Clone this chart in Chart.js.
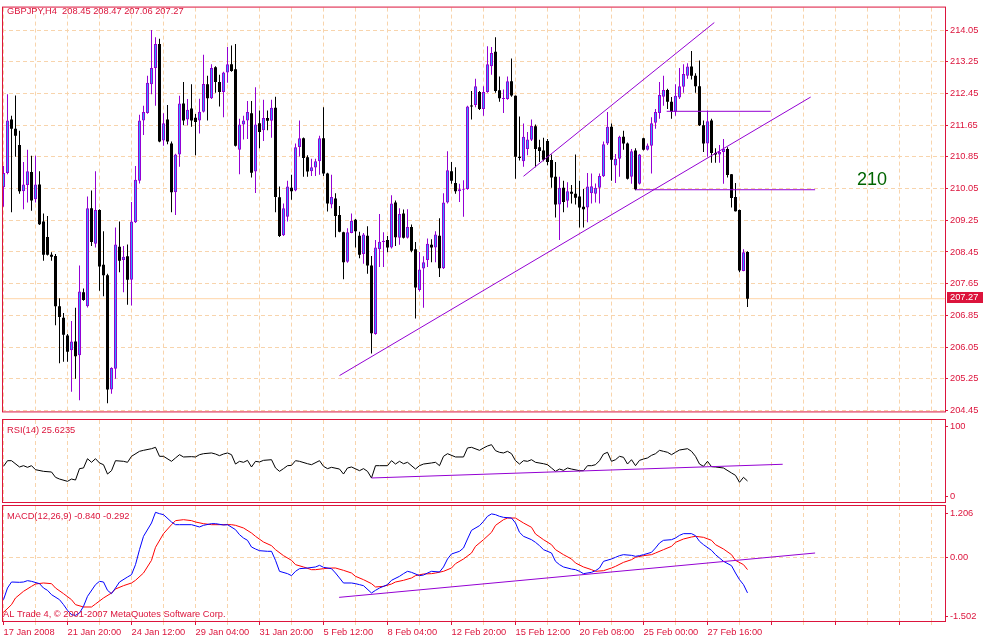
<!DOCTYPE html>
<html><head><meta charset="utf-8">
<script src="https://cdn.jsdelivr.net/npm/chart.js"></script>
<style>
html,body{margin:0;padding:0;background:#fff;}
body{width:983px;height:639px;position:relative;overflow:hidden;}
canvas{position:absolute;left:0;display:block;}
</style></head><body>
<canvas id="cMain" width="983" height="419" style="top:0px"></canvas>
<canvas id="cRsi" width="983" height="85" style="top:419px"></canvas>
<canvas id="cMacd" width="983" height="135" style="top:504px"></canvas>
<script>
const symbol = 'GBPJPY,H4';
const opens = [210.08,210.44,211.79,211.56,211.15,209.98,210.14,210.47,209.78,210.15,
209.22,208.83,208.38,208.35,207.08,206.79,206.34,205.97,206.19,205.84,
207.43,207.08,209.55,208.66,209.51,208.13,207.86,204.98,205.50,208.58,
208.25,208.34,207.75,209.20,210.25,211.77,211.96,212.68,213.09,213.70,
211.26,211.79,211.19,209.96,210.91,212.20,211.79,212.07,211.84,211.77,
211.99,212.68,212.33,213.11,212.74,212.49,212.98,213.19,213.06,211.03,
211.67,211.77,211.95,210.48,211.70,211.52,211.83,211.76,212.09,209.83,
208.87,209.34,210.07,210.00,211.10,211.32,210.84,210.49,210.58,210.74,
211.32,210.43,209.65,209.80,209.38,208.95,208.20,208.93,209.26,208.86,
208.40,208.86,208.11,206.38,208.52,208.70,208.75,208.56,209.70,208.81,
209.42,208.81,209.08,208.52,207.49,208.03,208.25,208.63,208.56,208.86,
208.04,209.70,210.49,210.19,209.98,210.02,210.04,212.13,212.16,212.49,
212.06,212.49,213.14,213.50,212.53,212.31,212.31,212.76,212.39,210.85,
210.74,211.05,211.28,211.62,211.09,211.01,211.25,210.77,210.35,209.65,
210.07,209.74,209.97,209.92,209.85,209.59,209.57,209.93,209.92,210.07,
210.36,211.19,211.61,210.63,210.80,211.36,211.19,210.35,211.01,210.17,
211.32,211.03,211.13,211.71,211.96,212.37,212.54,212.24,211.99,212.35,
212.62,212.90,213.13,212.90,212.63,211.65,211.19,211.77,210.95,210.91,
210.97,211.05,210.41,209.84,209.51,207.97,208.45];
const highs = [210.62,212.43,211.89,212.40,211.51,210.72,211.03,210.88,210.88,210.49,
209.42,209.36,208.44,208.40,207.28,206.91,206.38,206.71,207.04,208.11,
207.53,209.85,210.00,210.49,209.53,208.97,207.90,205.54,209.07,209.22,
208.60,208.64,209.71,210.62,211.91,212.14,212.90,214.05,213.87,213.83,
211.95,212.16,211.24,210.93,212.39,212.74,212.31,212.68,211.93,212.32,
213.43,212.90,213.19,213.14,212.92,213.00,213.62,213.66,213.70,211.81,
211.89,212.26,212.26,212.61,212.02,212.29,212.02,212.29,212.37,210.10,
209.67,210.25,210.40,211.19,211.77,211.34,210.89,210.80,210.80,211.38,
212.10,210.45,210.40,209.93,209.61,208.96,209.05,209.42,209.28,208.96,
208.93,209.10,208.35,208.75,209.41,208.95,208.85,209.88,209.75,209.55,
209.52,209.53,209.14,208.70,208.45,208.34,208.79,208.77,208.97,209.30,
209.93,210.99,210.72,210.59,210.17,210.26,212.14,212.51,212.82,212.51,
212.63,213.64,213.62,213.87,212.88,212.55,212.88,213.33,212.40,211.87,
211.69,211.48,211.79,211.67,211.28,211.33,211.30,210.91,210.72,210.35,
210.25,210.21,210.14,210.91,210.25,210.04,210.44,210.43,210.18,210.43,
211.24,211.98,211.69,210.92,211.38,211.51,211.21,211.05,211.07,210.92,
211.33,211.19,211.85,212.06,212.74,212.90,212.57,212.36,212.68,213.09,
213.19,213.21,213.52,212.96,213.28,211.77,212.02,211.81,211.07,211.15,
211.30,211.09,210.42,210.19,209.52,208.52,208.47];
const lows = [209.59,210.41,209.45,210.85,209.92,209.53,209.70,209.49,209.70,209.13,
208.23,208.36,208.23,206.60,205.64,205.68,205.68,204.92,205.25,204.71,
207.22,207.05,208.60,208.56,207.47,207.33,204.63,204.87,205.25,207.94,
207.43,207.12,207.10,209.18,210.18,211.40,211.94,212.43,212.14,211.22,
211.13,211.17,209.45,209.38,210.60,211.65,211.65,211.61,210.89,211.44,
211.97,211.77,212.31,212.47,212.12,211.85,212.72,213.00,211.11,210.41,
211.29,211.30,210.33,209.94,211.07,211.25,211.52,211.33,209.45,208.83,
208.85,209.22,209.77,209.98,210.86,210.35,210.35,210.37,210.37,210.40,
210.37,209.47,209.55,208.82,208.95,207.76,208.18,208.92,208.56,208.29,
208.15,207.90,205.89,206.36,208.07,208.07,208.44,208.54,208.60,208.63,
208.79,208.79,208.44,206.77,207.45,207.04,208.07,208.19,208.19,207.82,
208.02,209.67,210.17,209.92,209.71,209.34,210.02,211.79,212.10,212.03,
211.89,212.47,212.92,212.47,212.24,211.96,212.29,212.37,210.30,210.76,
210.60,210.89,211.25,210.59,210.72,210.74,210.64,210.07,209.32,208.75,
209.45,209.57,209.67,209.65,209.07,209.07,209.20,209.67,209.70,209.67,
210.34,211.15,210.25,210.19,210.35,211.03,210.28,210.17,210.01,210.15,
211.01,211.01,210.43,211.56,211.81,212.14,212.06,211.81,211.89,212.31,
212.47,212.82,212.80,212.47,211.63,210.97,210.85,210.70,210.70,210.70,
210.17,210.33,209.57,209.47,207.94,207.96,207.06];
const closes = [210.44,211.77,211.56,211.38,209.98,210.15,210.49,209.75,210.15,209.15,
208.38,208.38,208.33,207.08,206.81,206.36,205.93,206.19,205.82,207.45,
207.24,209.55,208.70,209.51,208.08,207.86,204.98,205.52,208.64,208.23,
208.33,207.75,209.22,210.27,211.77,211.98,212.72,213.09,213.70,211.24,
211.70,211.24,209.96,210.91,212.20,211.77,212.04,211.77,211.73,211.99,
212.69,212.33,213.09,212.74,212.49,212.98,213.19,213.02,211.13,211.67,
211.77,211.98,210.45,211.67,211.48,211.83,211.76,212.09,209.84,208.85,
209.55,210.10,209.98,211.09,211.32,210.82,210.48,210.59,210.74,211.32,
210.43,209.67,209.84,209.36,208.96,208.19,208.95,209.24,208.97,208.38,
208.89,208.11,206.40,208.56,208.71,208.73,208.56,209.67,208.82,209.41,
208.81,209.08,208.48,207.55,208.01,208.19,208.66,208.56,208.89,208.04,
209.70,210.51,210.25,209.98,210.03,210.04,212.12,212.12,212.63,212.06,
212.49,213.19,213.47,212.51,212.33,212.33,212.76,212.40,210.85,210.82,
211.36,211.29,211.63,211.05,211.00,210.78,210.72,210.33,209.65,210.07,
209.71,209.98,209.92,209.82,209.57,209.53,210.10,210.11,210.07,210.37,
211.17,211.61,210.78,210.80,211.36,211.19,210.30,210.99,210.03,210.91,
211.03,211.14,211.70,211.98,212.41,212.54,212.24,211.99,212.39,212.63,
212.94,213.13,212.90,212.63,211.65,211.19,211.75,210.95,210.91,210.97,
211.05,210.39,209.81,209.48,207.98,208.44,207.27];

const timeLabels = ['17 Jan 2008','21 Jan 20:00','24 Jan 12:00','29 Jan 04:00','31 Jan 20:00','5 Feb 12:00','8 Feb 04:00','12 Feb 20:00','15 Feb 12:00','20 Feb 08:00','25 Feb 00:00','27 Feb 16:00'];
const priceTicks = [204.45,205.25,206.05,206.85,207.65,208.45,209.25,210.05,210.85,211.65,212.45,213.25,214.05];
const priceRange = [204.425, 214.618];

const rsiX = [0,1,2,4,5,6,7,8,10,12,13,14,16,17,18,19,20,21,22,23,24,25,26,27,28,30,31,32,34,35,37,38,39,40,42,43,44,45,47,48,49,50,52,53,54,55,56,57,58,59,60,61,62,63,64,65,67,68,69,70,71,72,73,74,76,77,79,80,81,82,84,85,86,87,89,90,91,92,93,94,96,97,98,99,100,101,103,104,105,107,108,109,110,111,113,115,116,117,119,120,121,122,123,124,125,126,127,128,129,130,131,132,133,135,136,137,138,139,140,141,142,144,145,146,147,148,149,150,151,152,153,154,155,156,157,158,159,160,161,162,163,164,165,166,167,168,169,171,172,173,174,175,176,177,178,180,182,183,184,185,186];
const rsiV = [43.5,50.4,50.4,42.7,44.3,42.3,44.3,39.4,37.4,36.6,30.1,28.0,25.2,28.0,26.8,40.7,41.5,52.8,48.4,52.8,47.6,45.5,34.1,38.2,50.4,49.6,48.4,55.7,61.8,63.0,65.0,66.7,55.7,55.7,49.6,53.7,57.7,54.9,55.3,54.9,57.7,58.9,59.8,58.5,56.5,58.5,59.8,57.7,46.3,49.6,48.4,50.8,42.7,49.6,48.8,50.8,51.6,41.5,37.4,40.7,44.3,44.7,50.4,49.6,46.7,45.5,50.4,43.5,40.7,42.3,40.2,34.1,41.5,42.7,38.2,40.7,37.4,29.3,44.3,44.3,44.3,50.4,46.3,49.6,46.7,48.4,40.2,44.3,46.3,47.6,48.4,44.3,55.7,58.9,54.9,54.9,65.9,66.7,63.0,65.9,68.3,69.9,62.6,60.6,59.8,61.8,58.9,50.4,46.3,50.4,49.6,51.6,48.4,46.7,45.5,41.5,37.4,40.2,38.6,41.5,40.2,38.2,38.2,44.3,44.3,45.5,50.4,58.5,60.6,49.6,51.6,55.7,54.5,46.3,51.6,44.3,50.8,52.4,53.7,56.9,58.9,63.0,61.8,60.6,57.7,60.6,63.4,65.0,61.8,55.7,46.3,43.5,49.6,43.1,42.7,41.5,35.4,32.5,24.0,30.1,25.62];
const rsiLast = 25.6235;

const macdX = [0,1,2,4,5,6,7,9,10,11,12,14,15,16,17,18,19,20,21,23,24,25,26,27,28,29,31,32,33,34,35,37,38,39,40,42,43,44,47,49,50,52,53,55,56,58,59,60,61,62,63,64,66,67,68,69,71,72,73,74,76,78,79,80,82,83,84,85,87,88,89,90,92,93,94,96,97,99,100,101,102,104,105,106,107,109,110,111,112,114,115,116,117,119,120,121,122,123,124,125,127,128,129,130,132,133,134,135,137,138,139,140,142,143,144,145,147,148,149,150,152,153,154,155,157,158,159,160,162,163,164,165,167,168,169,170,172,173,174,175,177,178,179,180,182,183,184,185,186];
const macdV = [-1.000,-0.725,-0.584,-0.591,-0.584,-0.552,-0.568,-0.623,-0.725,-0.780,
-0.882,-1.000,-1.117,-1.251,-1.353,-1.369,-1.314,-1.157,-0.921,-0.646,
-0.568,-0.584,-0.780,-0.858,-0.725,-0.584,-0.466,-0.411,-0.175,0.178,
0.492,0.806,1.057,1.025,1.002,0.829,0.766,0.766,0.766,0.712,
0.751,0.790,0.790,0.759,0.766,0.649,0.531,0.452,0.398,0.240,
0.193,0.154,0.139,0.139,-0.073,-0.332,-0.387,-0.434,-0.332,-0.270,
-0.254,-0.230,-0.191,-0.238,-0.270,-0.372,-0.489,-0.607,-0.607,-0.623,
-0.646,-0.670,-0.843,-0.780,-0.725,-0.646,-0.544,-0.450,-0.387,-0.332,
-0.356,-0.434,-0.419,-0.372,-0.332,-0.348,-0.230,-0.042,0.076,0.139,
0.217,0.429,0.633,0.743,0.845,0.963,1.020,1.002,0.963,0.939,
0.923,0.806,0.586,0.492,0.413,0.350,0.272,0.178,0.099,-0.097,
-0.175,-0.230,-0.278,-0.293,-0.332,-0.387,-0.356,-0.317,-0.254,-0.097,
-0.042,-0.003,0.037,0.060,0.044,0.021,0.037,0.060,0.115,0.217,
0.335,0.398,0.413,0.452,0.515,0.555,0.555,0.507,0.374,0.295,
0.162,0.060,-0.019,-0.097,-0.199,-0.372,-0.529,-0.646,-0.840];
const sigX = [0,2,3,5,7,8,10,12,13,15,17,18,20,22,23,25,27,28,30,32,33,35,37,38,40,42,43,45,47,48,50,52,54,57,58,60,62,63,65,67,68,70,72,73,75,77,78,80,82,83,85,87,88,90,92,93,95,97,98,100,102,103,105,107,108,110,112,113,115,117,118,120,122,123,125,126,128,130,132,133,135,137,138,140,142,143,145,147,148,150,152,153,155,157,158,160,162,163,165,167,168,170,172,173,175,177,178,180,182,183,185,186];
const sigV = [-1.298,-1.117,-0.960,-0.803,-0.686,-0.631,-0.607,-0.623,-0.725,-0.858,
-1.000,-1.117,-1.172,-1.172,-1.102,-0.960,-0.843,-0.748,-0.670,-0.607,
-0.544,-0.372,-0.073,0.233,0.555,0.766,0.861,0.884,0.861,0.829,
0.790,0.766,0.766,0.766,0.751,0.688,0.570,0.492,0.358,0.272,
0.178,0.037,-0.073,-0.175,-0.230,-0.293,-0.293,-0.270,-0.254,-0.254,
-0.309,-0.372,-0.450,-0.529,-0.623,-0.701,-0.686,-0.631,-0.584,-0.544,
-0.489,-0.434,-0.395,-0.387,-0.372,-0.332,-0.254,-0.152,-0.042,0.099,
0.256,0.413,0.586,0.750,0.884,0.923,0.923,0.806,0.704,0.547,
0.413,0.295,0.178,0.060,-0.042,-0.136,-0.230,-0.293,-0.332,-0.317,
-0.254,-0.215,-0.121,-0.058,-0.003,0.037,0.060,0.099,0.178,0.256,
0.350,0.429,0.476,0.492,0.468,0.398,0.295,0.193,0.060,-0.073,
-0.175,-0.292];
const macdLast = -0.840, sigLast = -0.292;
const rsiScaleVals = [0, 100];
const macdScaleVals = [-1.502, 0, 1.206];

// drawn objects (time index, price)
const trendLower = [[84, 205.33], [201.8, 212.36]];
const trendUpper = [[130, 210.36], [177.7, 214.24]];
const levelHigh = [[165.8, 212.00], [191.8, 212.00]];
const levelLow = [[158, 210.02], [202.9, 210.02]];
const rsiTrend = [[92, 29.3], [194.8, 46.0]];
const macdTrend = [[83.9, -0.945], [202.9, 0.099]];
const note210 = {text: '210', x: 213.4, y: 210.15};

const FAM = '"Liberation Sans", Arial, sans-serif';
const FS = 9.3;
const FONT = FS + 'px ' + FAM;
const RED = '#DC143C';
const GRID = '#F8D4AC';
const VIOLET = '#9400D3';
const BULL_FILL = '#2E9BFF';
const XMIN = -0.375, XMAX = 235.375;
const gridIdx = []; for (let v = 0; v <= 232; v += 8) gridIdx.push(v);
const N = closes.length;

Chart.defaults.font.family = FAM;
Chart.defaults.font.size = FS;

const pts = arr => arr.map(p => ({x: p[0], y: p[1]}));
const lineDS = (data, color, order) => ({type: 'line', data, borderColor: color, borderWidth: 1, pointRadius: 0, tension: 0, fill: false, order});

function xAxis(showLabels) {
  return {
    type: 'linear', min: XMIN, max: XMAX, offset: false,
    afterBuildTicks: s => { s.ticks = gridIdx.map(v => ({value: v})); },
    afterFit: s => { s.height = showLabels ? 18 : 0; },
    ticks: showLabels ? {
      display: true, autoSkip: false, maxRotation: 0, minRotation: 0, align: 'start', padding: 2,
      color: RED, font: {family: FAM, size: FS},
      callback: v => (v % 16 === 0 && timeLabels[v / 16]) ? timeLabels[v / 16] : ''
    } : {display: false},
    grid: {color: GRID, lineWidth: 1, offset: false, drawTicks: showLabels, tickLength: 4,
      tickColor: c => (c.tick && c.tick.value % 16 === 0) ? RED : GRID},
    border: {display: false, dash: [4, 3]}
  };
}

function deco(opts) {
  return {
    id: 'deco' + opts.name,
    afterDraw(chart) {
      const {ctx, chartArea: a} = chart;
      ctx.save();
      ctx.strokeStyle = RED; ctx.lineWidth = 1;
      const t = a.top - 1;
      ctx.strokeRect(a.left + 0.5, t + 0.5, a.right - a.left, a.bottom - t);
      ctx.font = FONT; ctx.fillStyle = RED; ctx.textAlign = 'left'; ctx.textBaseline = 'alphabetic';
      opts.texts.forEach(tx => ctx.fillText(tx.s, tx.x, tx.y));
      if (opts.labels) {
        const y = chart.scales.y;
        ctx.textBaseline = 'middle';
        opts.labels.forEach(l => {
          const py = Math.round(y.getPixelForValue(l.v) + l.dy);
          ctx.beginPath(); ctx.moveTo(a.right, py + 0.5); ctx.lineTo(a.right + 3, py + 0.5); ctx.stroke();
          ctx.fillText(l.s, a.right + 5, py + 0.5);
        });
      }
      if (opts.extra) opts.extra(chart, ctx, a);
      ctx.restore();
    }
  };
}

// ---- main chart
const bullBody = [], bearBody = [], bullWick = [], bearWick = [];
for (let i = 0; i < N; i++) {
  const up = closes[i] > opens[i];
  (up ? bullBody : bearBody).push({x: i, y: [opens[i], closes[i]]});
  (up ? bullWick : bearWick).push({x: i, y: [lows[i], highs[i]]});
}
const barBase = {type: 'bar', grouped: false, inflateAmount: 0, borderSkipped: false};
const lastClose = closes[N - 1];
const header = symbol + '  ' + [opens[N-1], highs[N-1], lows[N-1], closes[N-1]].map(v => v.toFixed(2)).join(' ');

new Chart(document.getElementById('cMain'), {
  type: 'bar',
  data: {datasets: [
    lineDS(pts(trendLower), VIOLET, 0),
    lineDS(pts(trendUpper), VIOLET, 0),
    lineDS(pts(levelHigh), VIOLET, 0),
    lineDS(pts(levelLow), VIOLET, 0),
    Object.assign({}, barBase, {data: bullBody, backgroundColor: BULL_FILL, borderColor: VIOLET, borderWidth: 1, barThickness: 3, minBarLength: 1, order: 1}),
    Object.assign({}, barBase, {data: bearBody, backgroundColor: '#000000', borderWidth: 0, barThickness: 3, minBarLength: 1, order: 1}),
    Object.assign({}, barBase, {data: bullWick, backgroundColor: VIOLET, borderWidth: 0, barThickness: 1, minBarLength: 1, order: 2}),
    Object.assign({}, barBase, {data: bearWick, backgroundColor: '#000000', borderWidth: 0, barThickness: 1, minBarLength: 1, order: 2}),
    lineDS([{x: XMIN, y: lastClose}, {x: XMAX, y: lastClose}], '#FFD5A8', 3)
  ]},
  options: {
    responsive: false, animation: false, devicePixelRatio: 1, events: [],
    layout: {padding: {left: 2, top: 3, right: 0, bottom: 3}},
    plugins: {legend: {display: false}, tooltip: {enabled: false}},
    scales: {
      x: xAxis(false),
      y: {
        position: 'right', min: priceRange[0], max: priceRange[1],
        afterBuildTicks: s => { s.ticks = priceTicks.map(v => ({value: v})); },
        afterFit: s => { s.width = 38; },
        ticks: {autoSkip: false, color: RED, font: {family: FAM, size: FS}, padding: 2, callback: v => Number(v).toFixed(2)},
        grid: {color: GRID, lineWidth: 1, drawTicks: true, tickLength: 3, tickColor: RED},
        border: {display: false, dash: [4, 3]}
      }
    }
  },
  plugins: [deco({name: 'main', texts: [{s: header, x: 7, y: 14}],
    extra: (chart, ctx, a) => {
      const y = chart.scales.y, x = chart.scales.x;
      const py = Math.round(y.getPixelForValue(lastClose));
      ctx.fillStyle = RED; ctx.fillRect(a.right + 2, py - 7, 36, 11);
      ctx.fillStyle = '#FFFFFF'; ctx.textBaseline = 'middle'; ctx.font = FONT;
      ctx.fillText(lastClose.toFixed(2), a.right + 5, py - 1.5);
      ctx.fillStyle = '#006400'; ctx.font = '18px ' + FAM; ctx.textBaseline = 'alphabetic';
      ctx.fillText(note210.text, x.getPixelForValue(note210.x), y.getPixelForValue(note210.y));
    }})]
});

// ---- RSI
new Chart(document.getElementById('cRsi'), {
  type: 'line',
  data: {datasets: [
    lineDS(rsiX.map((x, k) => ({x, y: rsiV[k]})), '#000000', 1),
    lineDS(pts(rsiTrend), VIOLET, 0)
  ]},
  options: {
    responsive: false, animation: false, devicePixelRatio: 1, events: [],
    layout: {padding: {left: 2, top: 1, right: 0, bottom: 2}},
    plugins: {legend: {display: false}, tooltip: {enabled: false}},
    scales: {
      x: xAxis(false),
      y: {position: 'right', min: 0, max: 100, afterFit: s => { s.width = 38; },
        ticks: {display: false}, grid: {display: false}, border: {display: false}}
    }
  },
  plugins: [deco({name: 'rsi', texts: [{s: 'RSI(14) ' + rsiLast.toFixed(4), x: 7, y: 14}],
    labels: [{v: rsiScaleVals[1], s: String(rsiScaleVals[1]), dy: 6}, {v: rsiScaleVals[0], s: String(rsiScaleVals[0]), dy: -6}]})]
});

// ---- MACD
new Chart(document.getElementById('cMacd'), {
  type: 'line',
  data: {datasets: [
    lineDS(macdX.map((x, k) => ({x, y: macdV[k]})), '#0000FF', 1),
    lineDS(sigX.map((x, k) => ({x, y: sigV[k]})), '#FF0000', 1),
    lineDS(pts(macdTrend), VIOLET, 0)
  ]},
  options: {
    responsive: false, animation: false, devicePixelRatio: 1, events: [],
    layout: {padding: {left: 2, top: 2, right: 0, bottom: 0}},
    plugins: {legend: {display: false}, tooltip: {enabled: false}},
    scales: {
      x: xAxis(true),
      y: {position: 'right', min: macdScaleVals[0], max: macdScaleVals[2],
        afterBuildTicks: s => { s.ticks = [{value: macdScaleVals[1]}]; },
        afterFit: s => { s.width = 38; },
        ticks: {display: false}, grid: {color: GRID, lineWidth: 1, drawTicks: false},
        border: {display: false, dash: [4, 3]}}
    }
  },
  plugins: [deco({name: 'macd',
    texts: [{s: 'MACD(12,26,9) ' + macdLast.toFixed(3) + ' ' + sigLast.toFixed(3), x: 7, y: 15},
            {s: 'AL Trade 4, \u00A9 2001-2007 MetaQuotes Software Corp.', x: 3, y: 113}],
    labels: [{v: macdScaleVals[2], s: macdScaleVals[2].toFixed(3), dy: 7},
             {v: macdScaleVals[1], s: macdScaleVals[1].toFixed(2), dy: 0},
             {v: macdScaleVals[0], s: macdScaleVals[0].toFixed(3), dy: -5}]})]
});
</script>
</body></html>
